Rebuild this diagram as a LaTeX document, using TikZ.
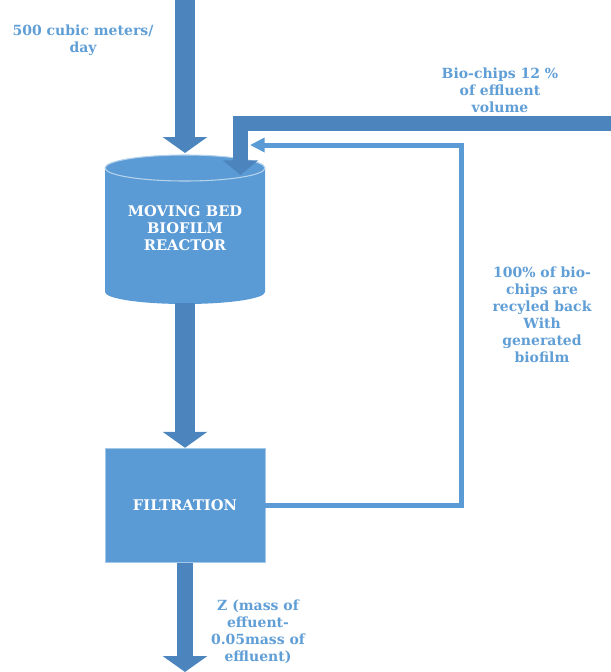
\documentclass[tikz,border=0pt]{standalone}
\usepackage{fontspec}
\setmainfont{DejaVu Serif}
\usetikzlibrary{arrows.meta, positioning}
\definecolor{flowblue}{RGB}{76,133,190}
\definecolor{unitblue}{RGB}{91,155,213}
\definecolor{labelblue}{RGB}{96,158,214}

\begin{document}
\begin{tikzpicture}[x=0.75pt,y=-0.75pt,
  unitbox/.style={fill=unitblue, draw=unitblue!55!white, line width=0.6pt,
    minimum width=120pt, minimum height=86pt},
  unittext/.style={text=white, align=center, font=\fontsize{11}{13}\selectfont\bfseries},
  flowlabel/.style={text=labelblue, align=center, font=\fontsize{10.5}{12.8}\selectfont\bfseries},
  bigflow/.style={flowblue, line width=15pt, -{Triangle[width=33pt,length=12pt]}},
  outflow/.style={flowblue, line width=11.5pt, -{Triangle[width=33pt,length=12pt]}},
  bioflow/.style={flowblue, line width=11.25pt, -{Triangle[width=26pt,length=11pt]}},
  recycle/.style={unitblue, line width=3.75pt, -{Triangle[width=10.5pt,length=11pt]}}]
\useasboundingbox (0,0) rectangle (611,672);

% moving bed biofilm reactor
\fill[unitblue] (105,168) -- (105,292)
  arc[start angle=180, end angle=360, x radius=60pt, y radius=9pt]
  -- (265,168) arc[start angle=0, end angle=180, x radius=60pt, y radius=9.75pt] -- cycle;
\draw[unitblue!45!white, line width=0.8pt] (185,168) ellipse [x radius=60pt, y radius=9.75pt];
\node[unittext] (mbbr) at (185,228) {MOVING BED\\BIOFILM\\REACTOR};
\coordinate (mbbrtop) at (185,153);
\coordinate (mbbrbot) at (185,303);
\coordinate (mbbrret) at (250,145);

\node[unitbox, unittext] (filt) at (185,505.5) {FILTRATION};

\coordinate (feed) at (185,0);
\coordinate (chips) at (611,123);
\coordinate (chipsbend) at (240.5,123);
\coordinate (chipsin) at (240.5,175);
\coordinate (loop) at (461,145);
\coordinate (outlet) at (185,672);

\draw[bigflow] (feed) -- (mbbrtop);
\draw[bioflow] (chips) -- (chipsbend) -- (chipsin);
\draw[bigflow] (mbbrbot) -- (filt.north);
\draw[outflow] (filt.south) -- (outlet);
\draw[recycle] (filt.east) -| (loop) -- (mbbrret);

\node[flowlabel] (feedlbl) at (83,40) {500 cubic meters/\\day};
\node[flowlabel] (chipslbl) at (500,90) {Bio-chips 12 \%\\of effluent\\volume};
\node[flowlabel] (looplbl) at (542,315) {100\% of bio-\\chips are\\recyled back\\With\\generated\\biofilm};
\node[flowlabel] (outlbl) at (258,632) {Z (mass of\\effuent-\\0.05mass of\\effluent)};
\end{tikzpicture}
\end{document}
